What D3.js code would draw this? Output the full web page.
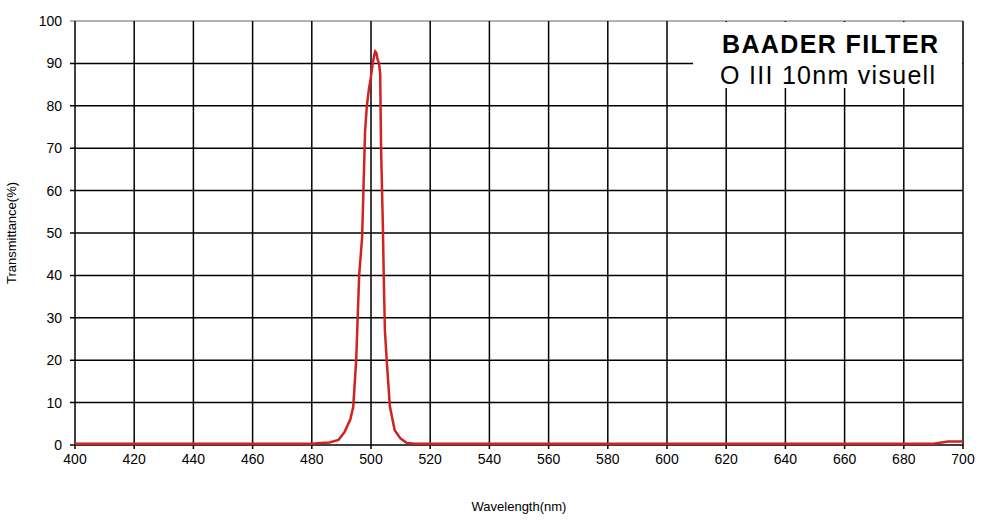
<!DOCTYPE html><html><head><meta charset="utf-8"><script src="https://cdn.jsdelivr.net/npm/d3@7"></script>
<style>body{margin:0;background:#fff}</style></head><body><svg id="c" width="985" height="520"></svg>
<script>
const wavelength=[400,450,480,483,486,489,491,493,494,495,496,497,498,498.6,499.3,499.8,500.6,501.1,501.4,501.8,502.2,502.7,503.1,503.4,504,504.3,504.7,505.4,506.4,508,510,512,515,520,560,600,650,690,695,700];
const transmittance=[0.3,0.3,0.3,0.5,0.6,1.2,3,6,9,20,40,49,74,80,84,86,90,92,92.8,92.5,91,90,87.6,70,52,40,27,19,9,3.5,1.5,0.5,0.3,0.3,0.3,0.3,0.3,0.3,0.8,0.8];
const xTicks=d3.range(400,701,20), yTicks=d3.range(0,101,10);
const titleLines=["BAADER FILTER","O III 10nm visuell"];
const svg=d3.select("#c");
const x=d3.scaleLinear().domain([400,700]).range([75,963]);
const y=d3.scaleLinear().domain([0,100]).range([445,21]);
const g=svg.append("g");
g.selectAll(".v").data(xTicks).join("line").attr("x1",d=>x(d)).attr("x2",d=>x(d)).attr("y1",y(100)).attr("y2",y(0)+4).attr("stroke","#000").attr("stroke-width",1.5);
g.selectAll(".h").data(yTicks).join("line").attr("x1",x(400)-5).attr("x2",x(700)).attr("y1",d=>y(d)).attr("y2",d=>y(d)).attr("stroke","#000").attr("stroke-width",d=>d===100?1:1.5).attr("stroke-opacity",d=>d===100?0.6:1);
svg.append("rect").attr("x",693).attr("y",22).attr("width",269).attr("height",66).attr("fill","#fff");
g.selectAll(".xl").data(xTicks).join("text").attr("x",d=>x(d)).attr("y",464).attr("text-anchor","middle").attr("font-family","Liberation Sans, Arial").attr("font-size",14).text(d=>d);
g.selectAll(".yl").data(yTicks).join("text").attr("x",62).attr("y",d=>y(d)+5).attr("text-anchor","end").attr("font-family","Liberation Sans, Arial").attr("font-size",14).text(d=>d);
svg.append("path").datum(wavelength.map((w,i)=>[w,transmittance[i]])).attr("d",d3.line().x(d=>x(d[0])).y(d=>y(d[1]))).attr("fill","none").attr("stroke","#d42020").attr("stroke-width",2.5);
svg.append("text").attr("x",519).attr("y",511).attr("text-anchor","middle").attr("font-family","Liberation Sans, Arial").attr("font-size",13).text("Wavelength(nm)");
svg.append("text").attr("transform","translate(16,233) rotate(-90)").attr("text-anchor","middle").attr("font-family","Liberation Sans, Arial").attr("font-size",13).text("Transmittance(%)");
svg.append("text").attr("x",938).attr("y",53).attr("text-anchor","end").attr("font-family","Liberation Sans, Arial").attr("font-weight","bold").attr("font-size",25).attr("textLength",216).text(titleLines[0]);
svg.append("text").attr("x",935).attr("y",84).attr("text-anchor","end").attr("font-family","Liberation Sans, Arial").attr("font-size",25).attr("textLength",215).text(titleLines[1]);
</script></body></html>
